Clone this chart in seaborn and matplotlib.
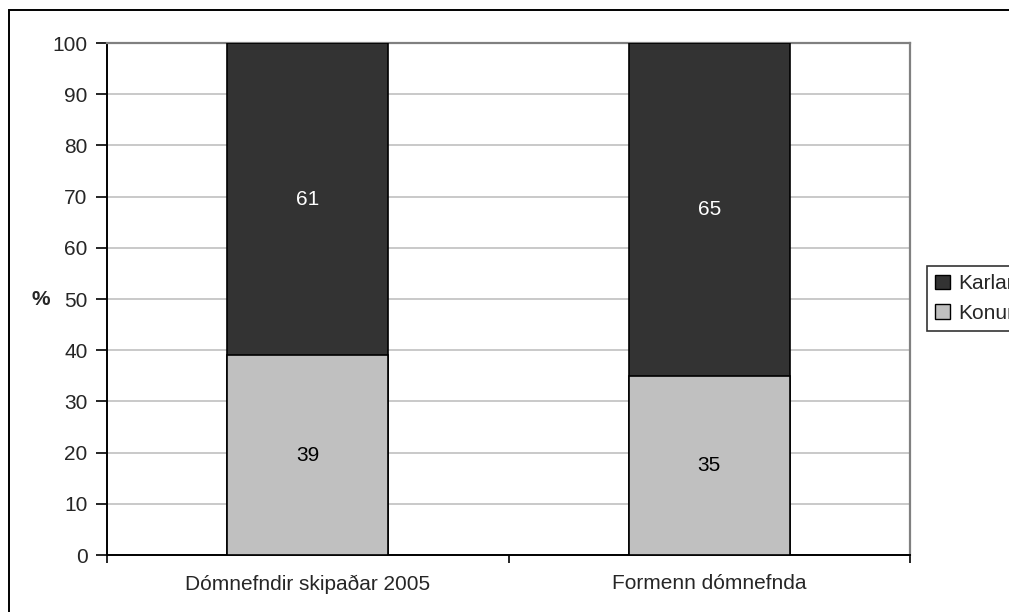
import matplotlib
matplotlib.use("Agg")
import matplotlib.pyplot as plt
import seaborn as sns
import pandas as pd
from matplotlib.patches import Rectangle, Patch

categories = ["Dómnefndir skipaðar 2005", "Formenn dómnefnda"]
konur = [39, 35]
karlar = [61, 65]
series_names = ["Karlar", "Konur"]
colors = {"Karlar": "#333333", "Konur": "#C0C0C0"}

sns.set_theme(style="white")
plt.rcParams["font.family"] = ["Liberation Sans", "DejaVu Sans"]
FS = 15

df = pd.DataFrame({"cat": categories, "konur": konur, "karlar": karlar})
df["total"] = df["konur"] + df["karlar"]

fig = plt.figure(figsize=(10.09, 6.12), dpi=100)
ax = fig.add_axes([0.106, 0.0931, 0.796, 0.8366])

# stacked: full bar in Karlar colour, Konur drawn over the bottom part
sns.barplot(data=df, x="cat", y="total", color=colors["Karlar"], width=0.4,
            edgecolor="black", linewidth=1.2, saturation=1, ax=ax, zorder=3)
sns.barplot(data=df, x="cat", y="konur", color=colors["Konur"], width=0.4,
            edgecolor="black", linewidth=1.2, saturation=1, ax=ax, zorder=4)

for i, row in df.iterrows():
    ax.text(i, row["konur"] / 2, str(row["konur"]), ha="center", va="center",
            fontsize=FS, color="black", zorder=5)
    ax.text(i, row["konur"] + row["karlar"] / 2, str(row["karlar"]), ha="center",
            va="center", fontsize=FS, color="white", zorder=5)

ax.set_xlim(-0.5, 1.5)
ax.set_ylim(0, 100)
ax.set_yticks(range(0, 101, 10))
ax.yaxis.grid(True, color="#C0C0C0", linewidth=1.2)
ax.set_axisbelow(True)

ax.set_xticks([0, 1])
ax.set_xticklabels(categories, fontsize=FS)
ax.set_xticks([-0.5, 0.5, 1.5], minor=True)
ax.tick_params(axis="x", which="major", length=0, pad=14)
ax.tick_params(axis="x", which="minor", length=6, width=1.2, color="black", direction="out", bottom=True)
ax.tick_params(axis="y", length=8, width=1.2, color="black", direction="out", left=True, labelsize=FS, pad=6)
ax.set_xlabel("")
ax.set_ylabel("%", fontsize=FS, fontweight="bold", rotation=0, va="center", ha="center")
ax.yaxis.set_label_coords(-0.083, 0.5)

for s in ["left", "bottom"]:
    ax.spines[s].set_color("black")
    ax.spines[s].set_linewidth(1.4)
for s in ["top", "right"]:
    ax.spines[s].set_visible(True)
    ax.spines[s].set_color("#808080")
    ax.spines[s].set_linewidth(1.6)

# legend sits against the right edge and is clipped there, as in the original
handles = [Patch(facecolor=colors[n], edgecolor="black", linewidth=1.0) for n in series_names]
leg = fig.legend(handles, series_names, loc="upper left", bbox_to_anchor=(927 / 1009, 1 - 266 / 612),
                 fontsize=FS, frameon=True, fancybox=False, edgecolor="black",
                 handlelength=0.7, handleheight=0.7, handletextpad=0.4, borderpad=0.4,
                 labelspacing=0.5, borderaxespad=0)
leg.get_frame().set_linewidth(1.2)

# outer chart frame (runs off the right/bottom edge)
fig.patches.append(Rectangle((9 / 1009, -0.05), 1.2, 1 - 10 / 612 + 0.05, transform=fig.transFigure,
                             fill=False, edgecolor="black", linewidth=1.4))

fig.savefig("out.png", dpi=100)
